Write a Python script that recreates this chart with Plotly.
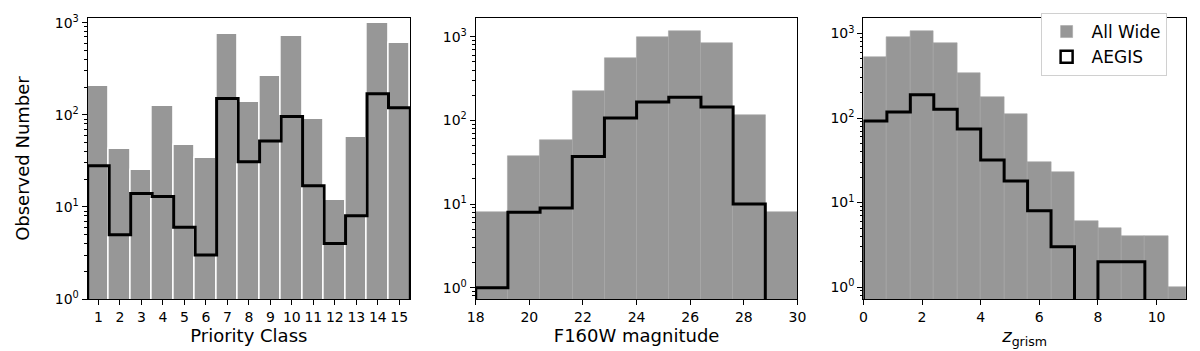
import plotly.graph_objects as go
from plotly.subplots import make_subplots

# priority class panel
priority_class = list(range(1, 16))
priority_all = [207, 42, 25, 125, 47, 34, 755, 138, 261, 714, 90, 12, 58, 991, 594]
priority_aegis = [28, 5, 14, 13, 6, 3, 150, 31, 52, 96, 17, 4, 8, 169, 119]

# F160W magnitude panel
mag_edges = [18.0, 19.2, 20.4, 21.6, 22.8, 24.0, 25.2, 26.4, 27.6, 28.8, 30.0]
mag_all = [8, 37, 58, 224, 553, 983, 1162, 845, 117, 8]
mag_aegis = [1, 8, 9, 37, 107, 166, 189, 145, 10, 0]

# grism redshift panel
z_edges = [0.0, 0.8, 1.6, 2.4, 3.2, 4.0, 4.8, 5.6, 6.4, 7.2, 8.0, 8.8, 9.6, 10.4, 11.2]
z_all = [532, 915, 1062, 762, 340, 178, 113, 30, 23, 6, 5, 4, 4, 1]
z_aegis = [92, 118, 189, 127, 74, 32, 18, 8, 3, 0, 2, 2, 0, 0]

BAR_COLOR = "#979797"
FONT = "DejaVu Sans"
FLOOR = 1e-3  # zero counts drop below the log axis


def step_xy(edges, counts):
    # outline of a histtype='step' histogram
    vals = [c if c > 0 else FLOOR for c in counts]
    xs = [edges[0]] + list(edges) + [edges[-1]]
    ys = [FLOOR] + vals + [vals[-1], FLOOR]
    return xs, ys


def centers(edges):
    return [(a + b) / 2 for a, b in zip(edges[:-1], edges[1:])]


def widths(edges):
    return [b - a for a, b in zip(edges[:-1], edges[1:])]


fig = make_subplots(rows=1, cols=3)

# --- left: priority class
prio_edges = [c - 0.5 for c in priority_class] + [priority_class[-1] + 0.5]
fig.add_trace(go.Bar(x=priority_class, y=priority_all, width=1,
                     marker=dict(color=BAR_COLOR, line=dict(color="white", width=1.5)),
                     showlegend=False), row=1, col=1)
sx, sy = step_xy(prio_edges, priority_aegis)
fig.add_trace(go.Scatter(x=sx, y=sy, mode="lines", line=dict(color="black", width=3, shape="hv"),
                         showlegend=False), row=1, col=1)

# --- middle: magnitude
fig.add_trace(go.Bar(x=centers(mag_edges), y=mag_all, width=widths(mag_edges),
                     marker=dict(color=BAR_COLOR, line=dict(color="#a6a6a6", width=0.6)),
                     showlegend=False), row=1, col=2)
sx, sy = step_xy(mag_edges, mag_aegis)
fig.add_trace(go.Scatter(x=sx, y=sy, mode="lines", line=dict(color="black", width=3, shape="hv"),
                         showlegend=False), row=1, col=2)

# --- right: redshift
fig.add_trace(go.Bar(x=centers(z_edges), y=z_all, width=widths(z_edges), name="All Wide",
                     marker=dict(color=BAR_COLOR, line=dict(color="#a6a6a6", width=0.6))),
              row=1, col=3)
sx, sy = step_xy(z_edges, z_aegis)
fig.add_trace(go.Scatter(x=sx, y=sy, mode="lines", line=dict(color="black", width=3, shape="hv"),
                         showlegend=False), row=1, col=3)
# legend-only entry for the step outline
fig.add_trace(go.Bar(x=[None], y=[None], name="AEGIS",
                     marker=dict(color="white", line=dict(color="black", width=2.5))),
              row=1, col=3)

ytickvals = [1, 10, 100, 1000]
yticktext = ["10<sup>0</sup>", "10<sup>1</sup>", "10<sup>2</sup>", "10<sup>3</sup>"]
minor_vals = [m * 10 ** k for k in range(-1, 3) for m in range(2, 10)]

common_axis = dict(showline=True, mirror=True, linecolor="black", linewidth=1.2,
                   ticks="outside", ticklen=5, tickwidth=1, tickcolor="black",
                   showgrid=False, zeroline=False,
                   tickfont=dict(family=FONT, size=14, color="black"))

x_domains = [[0.0598, 0.3325], [0.3881, 0.6603], [0.7161, 0.9889]]
y_ranges = [[0, 3.05], [-0.135, 3.223], [-0.141, 3.183]]
x_ranges = [[0.5, 15.5], [18, 30], [0, 11]]
x_ticks = [priority_class, list(range(18, 31, 2)), list(range(0, 11, 2))]
x_titles = ["Priority Class", "F160W magnitude", "<i>z</i><sub>grism</sub>"]

for i in range(3):
    fig.update_xaxes(common_axis, domain=x_domains[i], range=x_ranges[i],
                     tickmode="array", tickvals=x_ticks[i],
                     title=dict(text=x_titles[i], standoff=0,
                                font=dict(family=FONT, size=18, color="black")),
                     row=1, col=i + 1)
    fig.update_yaxes(common_axis, type="log", domain=[0.1538, 0.985], range=y_ranges[i],
                     tickmode="array", tickvals=ytickvals, ticktext=yticktext,
                     minor=dict(ticks="outside", ticklen=2.5, tickwidth=0.8, tickcolor="black",
                                tickvals=minor_vals),
                     row=1, col=i + 1)

fig.update_yaxes(title=dict(text="Observed Number", standoff=20,
                            font=dict(family=FONT, size=18, color="black")), row=1, col=1)

fig.update_layout(
    width=1200, height=351,
    margin=dict(l=0, r=0, t=0, b=0),
    barmode="overlay", bargap=0,
    plot_bgcolor="white", paper_bgcolor="white",
    font=dict(family=FONT, color="black"),
    legend=dict(x=0.866, y=1.0, xanchor="left", yanchor="top",
                bgcolor="white", bordercolor="#d0d0d0", borderwidth=1,
                font=dict(family=FONT, size=17, color="black"),
                itemwidth=40, tracegroupgap=4),
)

fig.write_html("out.html")
